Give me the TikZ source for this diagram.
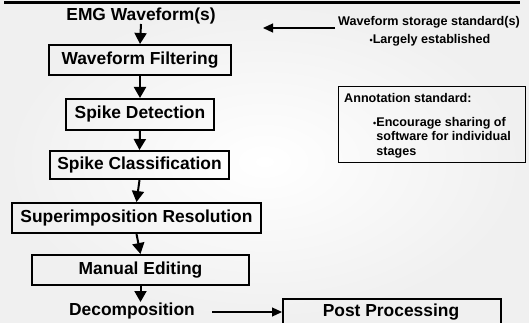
\documentclass[tikz,border=0pt]{standalone}
\usepackage{fontspec}
\setmainfont{Liberation Sans}
\usetikzlibrary{arrows.meta}
\begin{document}
\begin{tikzpicture}[x=1pt,y=-1pt,
  stagebox/.style={draw=black,line width=2pt,inner sep=0pt,font=\fontsize{17.4}{20}\selectfont\bfseries},
  plaintxt/.style={inner sep=0pt,font=\fontsize{17.4}{20}\selectfont\bfseries},
  sidetxt/.style={inner sep=0pt,font=\fontsize{12.6}{14.5}\selectfont\bfseries},
  flow/.style={line width=2pt,-{Triangle[length=11pt,width=12pt]}},
  thin/.style={line width=1.2pt,-{Triangle[length=10pt,width=9pt]}}]
\useasboundingbox (0,0) rectangle (529,323);
\shade[inner color=white,outer color=gray!12] (0,0) rectangle (529,323);
\draw[line width=3.5pt] (4,2.5) -- (520,2.5);

\node[plaintxt] (emg) at (141,16) {EMG Waveform(s)};
\node[stagebox,minimum width=182pt,minimum height=30pt] (wf) at (140,60) {Waveform Filtering};
\node[stagebox,minimum width=148pt,minimum height=31pt] (sd) at (140,114.5) {Spike Detection};
\node[stagebox,minimum width=179pt,minimum height=28pt] (sc) at (139.5,165) {Spike Classification};
\node[stagebox,minimum width=249pt,minimum height=30pt] (sr) at (136.5,218) {Superimposition Resolution};
\node[stagebox,minimum width=217pt,minimum height=30pt] (me) at (140.5,270) {Manual Editing};
\node[plaintxt] (dec) at (132,311) {Decomposition};
\node[stagebox,minimum width=218pt,minimum height=34pt,anchor=north west] (pp) at (282,298) {};
\node[plaintxt] (pptxt) at (391,312) {Post Processing};

\draw[flow] (141,24) -- (wf.north);
\draw[flow] (wf.south) -- (sd.north);
\draw[flow] (sd.south) -- (sc.north);
\draw[flow] (sc.south) -- (sr.north);
\draw[flow] (sr.south) -- (me.north);
\draw[flow] (me.south) -- (140.5,302);

\coordinate (decend) at (212,312);
\draw[thin] (decend) -- (pp.west |- decend);

\node[sidetxt,anchor=west] (wss) at (338,22) {Waveform storage standard(s)};
\node[sidetxt] (le) at (430,40) {{\fontsize{9}{10}\selectfont•}Largely established};
\coordinate (wssl) at (335,28);
\coordinate (wssr) at (263,28);
\draw[thin] (wssl) -- (wssr);

\node[draw=black,line width=1pt,minimum width=187pt,minimum height=76pt,anchor=north west] (ann) at (338,86) {};
\node[sidetxt,anchor=west] (anntitle) at (344,98) {Annotation standard:};
\node[sidetxt,anchor=north west,align=left] (annbody) at (373,117) {{\fontsize{9}{10}\selectfont•}Encourage sharing of\\\phantom{\fontsize{9}{10}\selectfont•}software for individual\\\phantom{\fontsize{9}{10}\selectfont•}stages};
\end{tikzpicture}
\end{document}
